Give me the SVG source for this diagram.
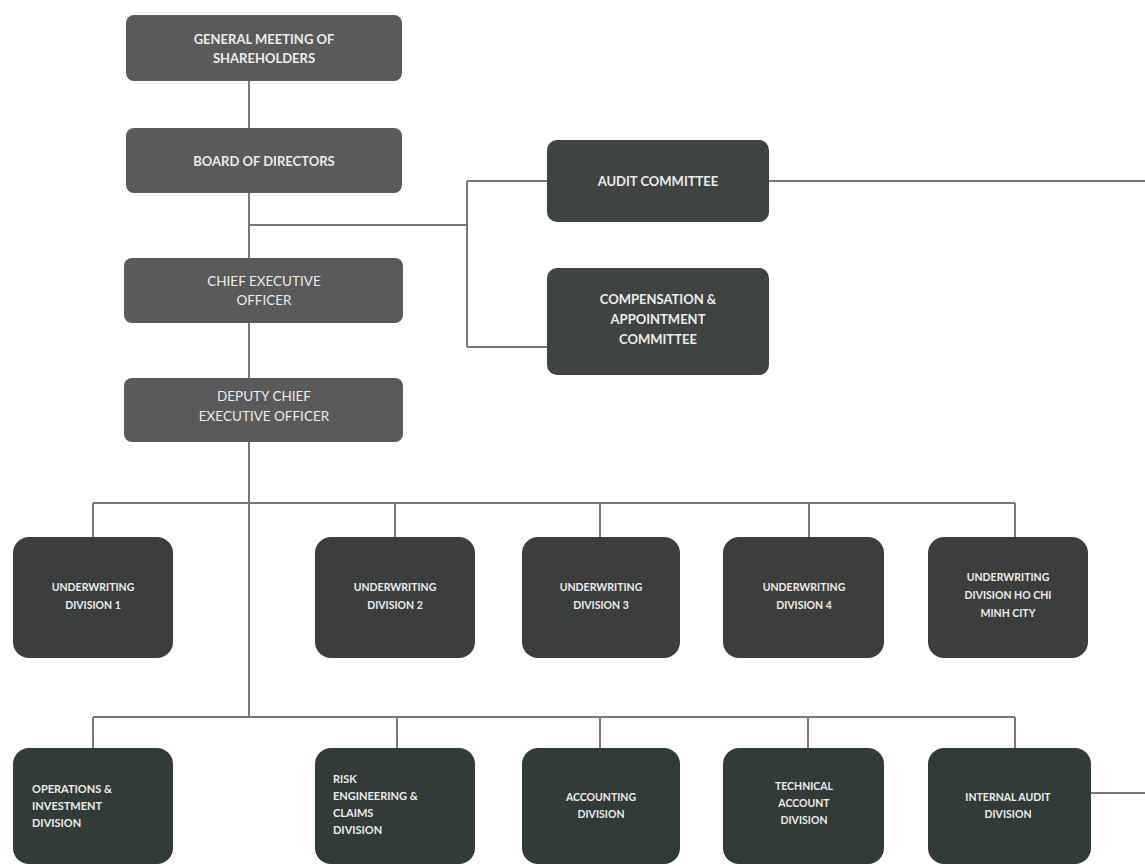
<svg xmlns="http://www.w3.org/2000/svg" width="1145" height="866" viewBox="0 0 1145 866">
<style>
.top{fill:#5a5a5a;}
.com{fill:#3f4442;}
.div{fill:#3c3d3d;}
.divg{fill:#313b38;}
.t{fill:#ececec;font-family:Lato,"Open Sans",sans-serif;font-weight:bold;font-size:13px;text-anchor:middle;}
.tl{fill:#ececec;font-family:Lato,"Open Sans",sans-serif;font-weight:normal;font-size:13.5px;text-anchor:middle;}
.s{fill:#ececec;font-family:Lato,"Open Sans",sans-serif;font-weight:bold;font-size:10.5px;text-anchor:middle;}
.sl{fill:#ececec;font-family:Lato,"Open Sans",sans-serif;font-weight:bold;font-size:11px;text-anchor:start;}
.ln{stroke:#787878;stroke-width:2;fill:none;}
</style>
<rect width="1145" height="866" fill="#ffffff"/>
<g id="connectors">
<path class="ln" d="M249 81 V717"/>
<path class="ln" d="M249 225 H467 M467 181 V347 M467 181 H547 M467 347 H547"/>
<path class="ln" d="M769 181 H1145"/>
<path class="ln" d="M93 503 H1015 M93 503 V537 M395 503 V537 M600 503 V537 M809 503 V537 M1015 503 V537"/>
<path class="ln" d="M93 717 H1015 M93 717 V748 M397 717 V748 M600 717 V748 M808 717 V748 M1015 717 V748"/>
<path class="ln" d="M1091 793 H1145"/>
</g>
<g id="gms"><rect class="top" x="126" y="15" width="276" height="66" rx="8"/>
<text class="t" x="264" y="44">GENERAL MEETING OF</text><text class="t" x="264" y="63">SHAREHOLDERS</text></g>
<g id="board"><rect class="top" x="126" y="128" width="276" height="65" rx="8"/>
<text class="t" x="264" y="166">BOARD OF DIRECTORS</text></g>
<g id="ceo"><rect class="top" x="124" y="258" width="279" height="65" rx="8"/>
<text class="tl" x="264" y="286">CHIEF EXECUTIVE</text><text class="tl" x="264" y="305">OFFICER</text></g>
<g id="deputy"><rect class="top" x="124" y="378" width="279" height="64" rx="8"/>
<text class="tl" x="264" y="401">DEPUTY CHIEF</text><text class="tl" x="264" y="421">EXECUTIVE OFFICER</text></g>
<g id="audit-committee"><rect class="com" x="547" y="140" width="222" height="82" rx="10"/>
<text class="t" x="658" y="186">AUDIT COMMITTEE</text></g>
<g id="compensation"><rect class="com" x="547" y="268" width="222" height="107" rx="10"/>
<text class="t" x="658" y="304">COMPENSATION &amp;</text><text class="t" x="658" y="324">APPOINTMENT</text><text class="t" x="658" y="344">COMMITTEE</text></g>
<g id="uw1"><rect class="div" x="13" y="537" width="160" height="121" rx="16"/>
<text class="s" x="93" y="591">UNDERWRITING</text><text class="s" x="93" y="609">DIVISION 1</text></g>
<g id="uw2"><rect class="div" x="315" y="537" width="160" height="121" rx="16"/>
<text class="s" x="395" y="591">UNDERWRITING</text><text class="s" x="395" y="609">DIVISION 2</text></g>
<g id="uw3"><rect class="div" x="522" y="537" width="158" height="121" rx="16"/>
<text class="s" x="601" y="591">UNDERWRITING</text><text class="s" x="601" y="609">DIVISION 3</text></g>
<g id="uw4"><rect class="div" x="723" y="537" width="161" height="121" rx="16"/>
<text class="s" x="804" y="591">UNDERWRITING</text><text class="s" x="804" y="609">DIVISION 4</text></g>
<g id="uw5"><rect class="div" x="928" y="537" width="160" height="121" rx="16"/>
<text class="s" x="1008" y="581">UNDERWRITING</text><text class="s" x="1008" y="599">DIVISION HO CHI</text><text class="s" x="1008" y="617">MINH CITY</text></g>
<g id="ops"><rect class="divg" x="13" y="748" width="160" height="116" rx="16"/>
<text class="sl" x="32" y="793">OPERATIONS &amp;</text><text class="sl" x="32" y="810">INVESTMENT</text><text class="sl" x="32" y="827">DIVISION</text></g>
<g id="risk"><rect class="divg" x="315" y="748" width="160" height="116" rx="16"/>
<text class="sl" x="333" y="783">RISK</text><text class="sl" x="333" y="800">ENGINEERING &amp;</text><text class="sl" x="333" y="817">CLAIMS</text><text class="sl" x="333" y="834">DIVISION</text></g>
<g id="accounting"><rect class="divg" x="522" y="748" width="158" height="116" rx="16"/>
<text class="s" x="601" y="801">ACCOUNTING</text><text class="s" x="601" y="818">DIVISION</text></g>
<g id="technical"><rect class="divg" x="723" y="748" width="161" height="116" rx="16"/>
<text class="s" x="804" y="790">TECHNICAL</text><text class="s" x="804" y="807">ACCOUNT</text><text class="s" x="804" y="824">DIVISION</text></g>
<g id="internal-audit"><rect class="divg" x="928" y="748" width="163" height="116" rx="16"/>
<text class="s" x="1008" y="801">INTERNAL AUDIT</text><text class="s" x="1008" y="818">DIVISION</text></g>
</svg>
